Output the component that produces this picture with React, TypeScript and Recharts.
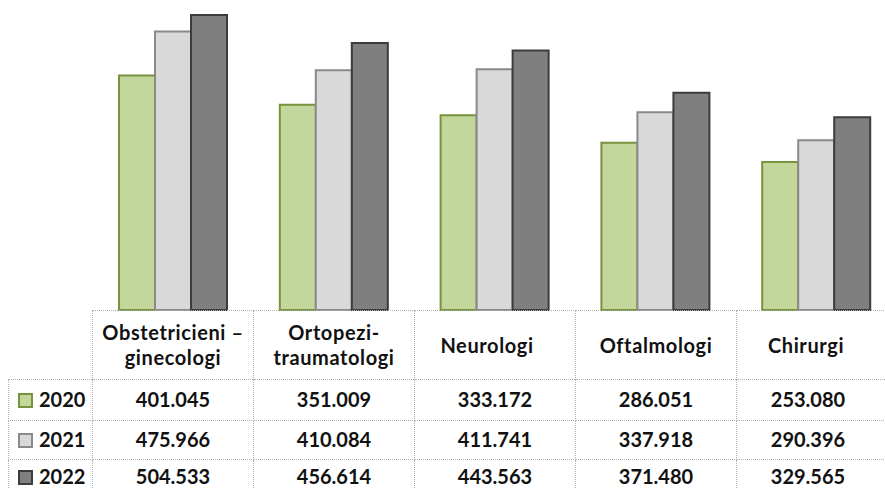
import React from "react";
import { BarChart, Bar, XAxis, YAxis } from "recharts";

const categories = [
  "Obstetricieni – ginecologi",
  "Ortopezi-traumatologi",
  "Neurologi",
  "Oftalmologi",
  "Chirurgi",
];
const headerLines = [
  ["Obstetricieni –", "ginecologi"],
  ["Ortopezi-", "traumatologi"],
  ["Neurologi"],
  ["Oftalmologi"],
  ["Chirurgi"],
];
const years = ["2020", "2021", "2022"];
const values2020 = [401.045, 351.009, 333.172, 286.051, 253.08];
const values2021 = [475.966, 410.084, 411.741, 337.918, 290.396];
const values2022 = [504.533, 456.614, 443.563, 371.48, 329.565];

const seriesValues = [values2020, values2021, values2022];
const fills = ["#c3d69b", "#d9d9d9", "#7f7f7f"];
const strokes = ["#77933c", "#8a8a8a", "#3c3c3c"];

const data = categories.map((name, i) => ({
  name,
  y2020: values2020[i],
  y2021: values2021[i],
  y2022: values2022[i],
}));

const line = "1px dotted #b0b0b0";
const font = "Lato, 'Open Sans', sans-serif";
const colWidths = [84, 161, 161, 161, 161, 161];
const rowHeights = [68, 38, 36, 32];

function DataTable() {
  return (
    <table
      style={{
        position: "absolute",
        left: 8,
        top: 310,
        width: 889,
        borderCollapse: "collapse",
        tableLayout: "fixed",
        fontFamily: font,
        color: "#111",
      }}
    >
      <colgroup>
        {colWidths.map((w, i) => (
          <col key={i} style={{ width: w }} />
        ))}
      </colgroup>
      <tbody>
        <tr>
          <td style={{ padding: 0, height: rowHeights[0] }} />
          {headerLines.map((lines, i) => (
            <td
              key={i}
              style={{
                borderTop: line,
                borderLeft: line,
                borderRight: line,
                textAlign: "center",
                fontSize: 20,
                fontWeight: 700,
                letterSpacing: 0.6,
                lineHeight: "25px",
                height: rowHeights[0],
                padding: i === 4 ? "0 22px 0 0" : i === 2 ? "0 16px 0 0" : 0,
              }}
            >
              {lines.map((l, j) => (
                <div key={j}>{l}</div>
              ))}
            </td>
          ))}
        </tr>
        {years.map((yr, r) => {
          const last = r === years.length - 1;
          const cellBorder = {
            borderTop: line,
            borderLeft: line,
            borderRight: line,
            borderBottom: last ? "none" : line,
          };
          const padBottom = last ? 0 : 2;
          return (
            <tr key={yr}>
              <td
                style={{
                  ...cellBorder,
                  padding: `0 0 ${padBottom}px 9px`,
                  fontSize: 20,
                  fontWeight: 700,
                  lineHeight: "22px",
                  height: rowHeights[r + 1],
                  whiteSpace: "nowrap",
                }}
              >
                <span
                  style={{
                    display: "inline-block",
                    width: 11,
                    height: 11,
                    background: fills[r],
                    border: `2px solid ${strokes[r]}`,
                    marginRight: 6,
                    verticalAlign: "-1px",
                  }}
                />
                {yr}
              </td>
              {seriesValues[r].map((v, c) => (
                <td
                  key={c}
                  style={{
                    ...cellBorder,
                    textAlign: "center",
                    fontSize: 20,
                    fontWeight: 700,
                    lineHeight: "22px",
                    height: rowHeights[r + 1],
                    padding: `0 ${c === 4 ? 18 : 0}px ${padBottom}px 0`,
                  }}
                >
                  {v.toFixed(3)}
                </td>
              ))}
            </tr>
          );
        })}
      </tbody>
    </table>
  );
}

export default function App() {
  return (
    <div
      style={{
        position: "fixed",
        left: 0,
        top: 0,
        width: 885,
        height: 489,
        overflow: "hidden",
        background: "#fff",
      }}
    >
      <BarChart
        width={900}
        height={489}
        data={data}
        margin={{ top: 0, right: 4, left: 92, bottom: 179 }}
        barCategoryGap="16.8%"
        barGap={0}
      >
        <XAxis dataKey="name" hide />
        <YAxis hide domain={[0, 530]} />
        {years.map((yr, i) => (
          <Bar
            key={yr}
            dataKey={`y${yr}`}
            fill={fills[i]}
            stroke={strokes[i]}
            strokeWidth={2}
            isAnimationActive={false}
          />
        ))}
      </BarChart>
      <DataTable />
    </div>
  );
}
